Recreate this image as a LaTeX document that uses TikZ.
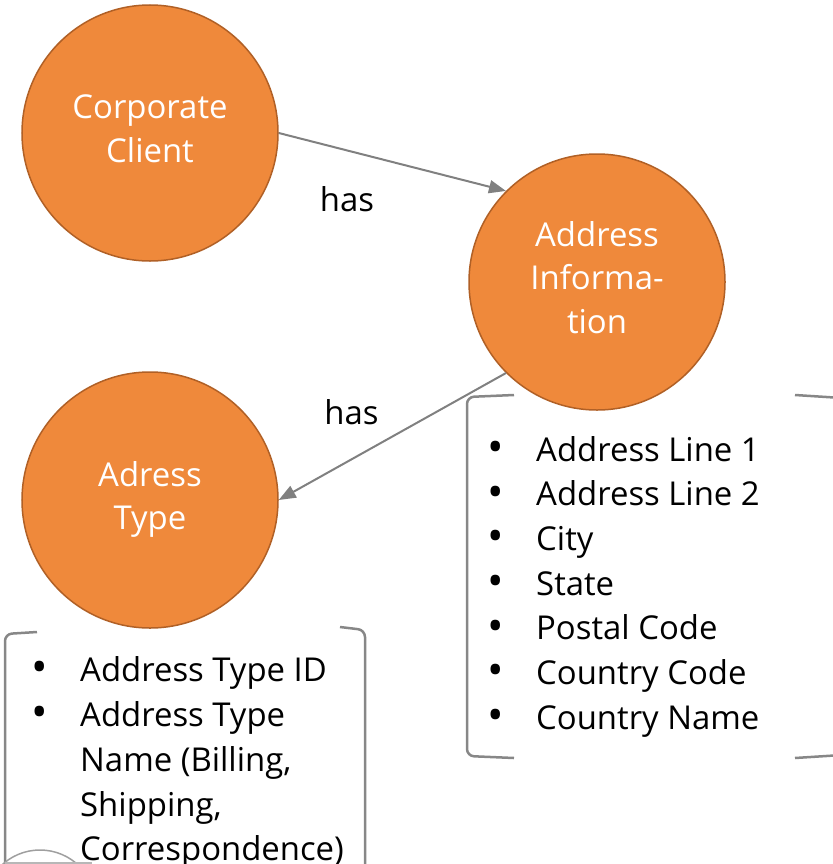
\documentclass[tikz,border=0pt]{standalone}
\usepackage{fontspec}
\setmainfont{Open Sans}
\usetikzlibrary{arrows.meta}

\definecolor{entityfill}{RGB}{239,137,59}
\definecolor{entityedge}{RGB}{176,96,38}
\definecolor{linkgray}{RGB}{128,128,128}
\definecolor{bracegray}{RGB}{135,135,135}

\newcommand{\bitem}{\makebox[49bp][l]{\raisebox{-1.5bp}{\fontsize{44}{44}\selectfont\textbullet}}}
\newcommand{\nobitem}{\hspace*{49bp}}

\tikzset{
  entity/.style={circle, draw=entityedge, line width=1.5bp, fill=entityfill,
    minimum size=256bp, inner sep=0pt, text=white, align=center,
    text depth=9bp, font=\fontsize{33}{44}\selectfont},
  rel/.style={draw=linkgray, line width=2bp, -{Triangle[length=17bp,width=13bp]}},
  brace/.style={draw=bracegray, line width=2.5bp, rounded corners=7bp},
  lbl/.style={font=\fontsize{33}{44}\selectfont},
  attr/.style={font=\fontsize{33}{44}\selectfont, anchor=base west, inner sep=0pt},
}

\begin{document}
\begin{tikzpicture}[x=1bp, y=-1bp]
    \clip (0,0) rectangle (833,864);
    % entities
    \node[entity] (cc) at (150,133) {Corporate\\Client};
    \node[entity] (ai) at (597,282) {Address\\Informa-\\tion};
    \node[entity] (at) at (150,500) {Adress\\Type};
    % relations
    \draw[rel] (cc.east) to node[lbl, pos=0.3, yshift=-49bp] {has} (ai.135.6);
    \draw[rel] (ai.225.9) to node[lbl, pos=0.68, yshift=47bp] {has} (at.east);

    % attribute brackets
    \draw[brace] (514,395) -- (467,397) -- (467,756) -- (514,758);
    \draw[brace] (795,395) -- (842,398) -- (842,755) -- (795,758);
    \draw[brace] (37,632) -- (5,634) -- (5,880);
    \draw[brace] (340,627) -- (365,630) -- (365,880);

    % attributes of Address Information
    \foreach \txt [count=\i] in {Address Line 1, Address Line 2, City, State,
        Postal Code, Country Code, Country Name}
        \node[attr] (ai-\i) at (487, 461+44.67*\i-44.67) {\bitem\txt};

    % attributes of Adress Type
    \node[attr] (at-1) at (31,681) {\bitem Address Type ID};
    \node[attr] (at-2) at (31,726) {\bitem Address Type};
    \node[attr] (at-3) at (31,771) {\nobitem Name (Billing,};
    \node[attr] (at-4) at (31,816) {\nobitem Shipping,};
    \node[attr] (at-5) at (31,860) {\nobitem Correspondence)};

    % clipped shape at the bottom edge
    \draw[bracegray!80, line width=1.5bp] (40,906) circle (56);
    \draw[bracegray!60, line width=2bp] (5,863) -- (92,863);
\end{tikzpicture}
\end{document}
